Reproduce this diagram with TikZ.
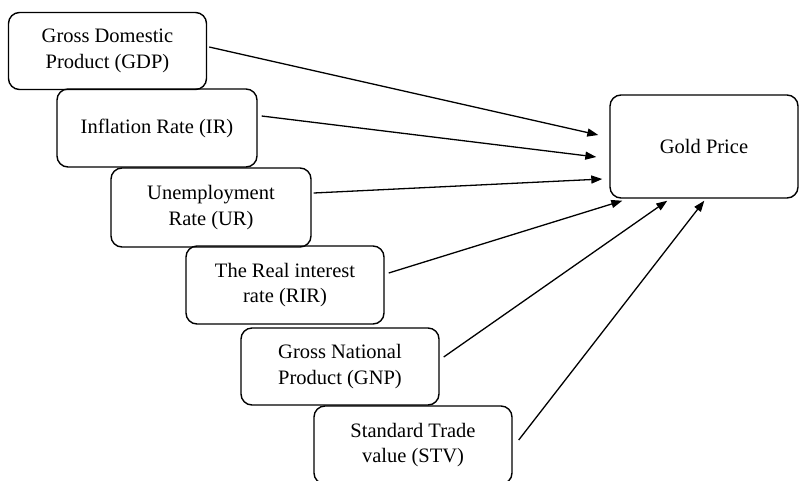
\documentclass[tikz,border=0pt]{standalone}
\usepackage{fontspec}
\setmainfont{LiberationSerif}[Extension=.ttf, UprightFont=*-Regular]
\usetikzlibrary{arrows.meta,calc}
\begin{document}
\begin{tikzpicture}[x=1pt,y=-1pt,
  box/.style={draw, line width=1.4pt, rounded corners=11pt, align=center,
    font=\rmfamily\fontsize{20.5}{25.5}\selectfont, inner sep=0pt,
    minimum width=198pt, minimum height=77pt},
  arr/.style={line width=1.3pt, -{Triangle[length=11pt,width=8pt]}}]
\useasboundingbox (0,0) rectangle (799,480);
\clip (0,0) rectangle (799,480);
\node[box] (gdp) at (107.5,51) {Gross Domestic\\Product (GDP)};
\node[box, minimum width=200pt, minimum height=78pt] (ir) at (157,128) {Inflation Rate (IR)};
\node[box, minimum width=200pt, minimum height=79pt] (ur) at (211,207.5) {Unemployment\\Rate (UR)};
\node[box, minimum height=78pt] (rir) at (285,285) {The Real interest\\rate (RIR)};
\node[box] (gnp) at (340,366.5) {Gross National\\Product (GNP)};
\node[box, minimum height=78pt] (stv) at (413,445) {Standard Trade\\value (STV)};
\node[box, minimum width=188pt, minimum height=103pt] (gold) at (704,146.5) {Gold Price};
\draw[arr] ([xshift=2pt,yshift=4pt]gdp.east) -- ([xshift=-11pt,yshift=11.5pt]gold.west);
\draw[arr] ([xshift=4pt,yshift=12pt]ir.east) -- ([xshift=-13pt,yshift=-10.5pt]gold.west);
\draw[arr] ([xshift=2pt,yshift=14.5pt]ur.east) -- ([xshift=-7pt,yshift=-32.5pt]gold.west);
\draw[arr] ([xshift=4pt,yshift=12pt]rir.east) -- ([xshift=13pt,yshift=-2pt]gold.south west);
\draw[arr] ([xshift=4pt,yshift=9.5pt]gnp.east) -- ([xshift=58pt,yshift=-2pt]gold.south west);
\draw[arr] ([xshift=6pt,yshift=5pt]stv.east) -- ([xshift=95pt,yshift=-2pt]gold.south west);
\end{tikzpicture}
\end{document}
